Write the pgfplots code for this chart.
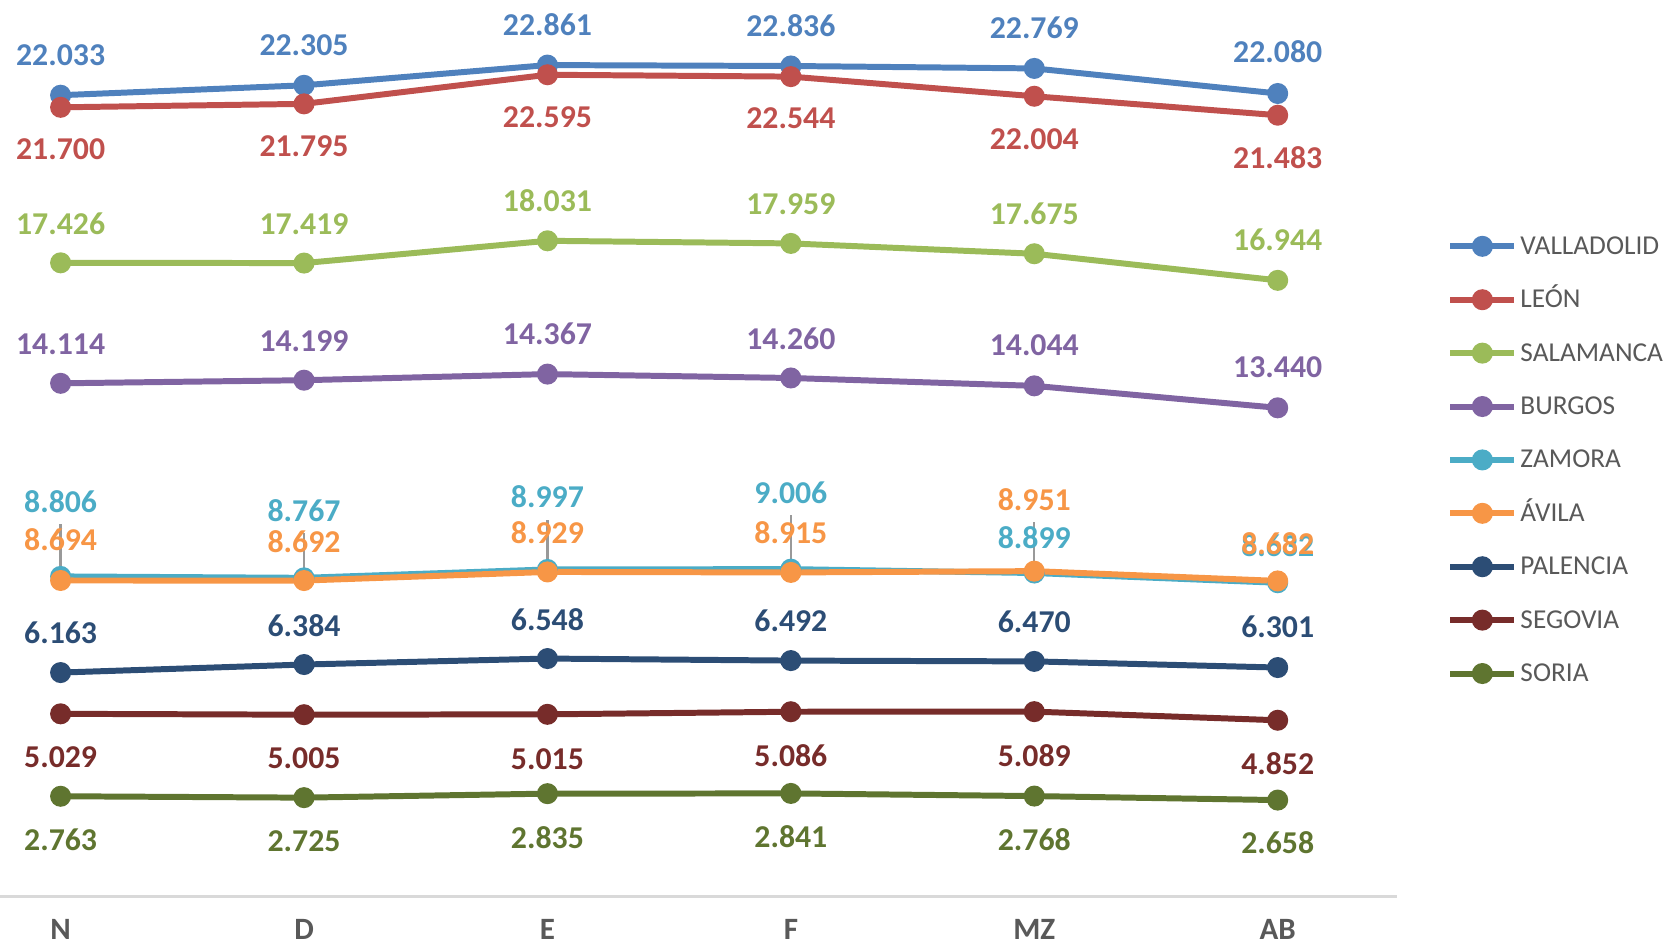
\documentclass[border=0pt]{standalone}
\usepackage{pgfplots}
\pgfplotsset{compat=1.18}
\usepackage{fontspec}
\setmainfont{Carlito}

\definecolor{cval}{HTML}{4F81BD}
\definecolor{cleo}{HTML}{C0504D}
\definecolor{csal}{HTML}{9BBB59}
\definecolor{cbur}{HTML}{8064A2}
\definecolor{czam}{HTML}{4BACC6}
\definecolor{cavi}{HTML}{F79646}
\definecolor{cpal}{HTML}{2C4D75}
\definecolor{cseg}{HTML}{772C2A}
\definecolor{csor}{HTML}{5F7530}
\definecolor{txtgray}{RGB}{89,89,89}

\pgfplotsset{
  serie/.style={color=#1, line width=1.6pt, mark=*, mark size=2pt,
    mark options={solid, fill=#1},
    nodes near coords, point meta=explicit symbolic,
    visualization depends on={\thisrow{off}\as\off},
    every node near coord/.append style={anchor=center, yshift=\off*0.1mm,
      font=\fontsize{8.5}{10}\selectfont\bfseries, text=#1}},
}

\begin{document}
\begin{tikzpicture}
\begin{axis}[
  scale only axis,
  width=131.3mm, height=84.3mm,
  xmin=-0.249, xmax=5.489,
  ymin=0, ymax=24650,
  clip=false,
  hide y axis,
  axis x line*=bottom,
  x axis line style={draw=black!15, line width=0.9pt},
  major tick length=0pt,
  xtick={0,1,2,3,4,5},
  xticklabels={N,D,E,F,MZ,AB},
  xticklabel style={anchor=center, yshift=-3.1mm, text=txtgray,
    font=\fontsize{8.3}{9}\selectfont\bfseries},
  legend style={at={(axis description cs:1.0358,0.741)}, anchor=north west,
    draw=none, fill=none, inner sep=0pt, row sep=2.52mm,
    font=\fontsize{7.3}{9}\selectfont, text=txtgray,
    nodes={inner sep=0pt, text height=2mm, text depth=0.5mm},
    /tikz/every odd column/.append style={column sep=0.3mm}},
  legend cell align=left,
]
\addplot[serie=cval] table[x=x, y=y, meta=lab] {
x y lab off
0 22033 22.033 38
1 22305 22.305 38
2 22861 22.861 38
3 22836 22.836 38
4 22769 22.769 38
5 22080 22.080 39
};
\addlegendentry{VALLADOLID}
\addplot[serie=cleo] table[x=x, y=y, meta=lab] {
x y lab off
0 21700 21.700 -39
1 21795 21.795 -40
2 22595 22.595 -40
3 22544 22.544 -39
4 22004 22.004 -40
5 21483 21.483 -40
};
\addlegendentry{LEÓN}
\addplot[serie=csal] table[x=x, y=y, meta=lab] {
x y lab off
0 17426 17.426 37
1 17419 17.419 37
2 18031 18.031 38
3 17959 17.959 37
4 17675 17.675 38
5 16944 16.944 38
};
\addlegendentry{SALAMANCA}
\addplot[serie=cbur] table[x=x, y=y, meta=lab] {
x y lab off
0 14114 14.114 37
1 14199 14.199 37
2 14367 14.367 38
3 14260 14.260 37
4 14044 14.044 38
5 13440 13.440 38
};
\addlegendentry{BURGOS}
\addplot[serie=czam] table[x=x, y=y, meta=lab] {
x y lab off
0 8806 8.806 70
1 8767 8.767 63
2 8997 8.997 68
3 9006 9.006 72
4 8899 8.899 33
5 8632 8.632 35
};
\addlegendentry{ZAMORA}
\addplot[serie=cavi] table[x=x, y=y, meta=lab] {
x y lab off
0 8694 8.694 38
1 8692 8.692 37
2 8929 8.929 37
3 8915 8.915 37
4 8951 8.951 67
5 8682 8.682 35
};
\addlegendentry{ÁVILA}
\addplot[serie=cpal] table[x=x, y=y, meta=lab] {
x y lab off
0 6163 6.163 37
1 6384 6.384 37
2 6548 6.548 37
3 6492 6.492 37
4 6470 6.470 37
5 6301 6.301 38
};
\addlegendentry{PALENCIA}
\addplot[serie=cseg] table[x=x, y=y, meta=lab] {
x y lab off
0 5029 5.029 -41
1 5005 5.005 -41
2 5015 5.015 -42
3 5086 5.086 -41
4 5089 5.089 -41
5 4852 4.852 -41
};
\addlegendentry{SEGOVIA}
\addplot[serie=csor] table[x=x, y=y, meta=lab] {
x y lab off
0 2763 2.763 -41
1 2725 2.725 -41
2 2835 2.835 -41
3 2841 2.841 -41
4 2768 2.768 -41
5 2658 2.658 -40
};
\addlegendentry{SORIA}
% leader lines of the displaced labels
\addplot[forget plot, gray!80, line width=0.6pt] coordinates {(0,8806) (0,10236)};
\addplot[forget plot, gray!80, line width=0.6pt] coordinates {(1,8767) (1,9997)};
\addplot[forget plot, gray!80, line width=0.6pt] coordinates {(2,8997) (2,10367)};
\addplot[forget plot, gray!80, line width=0.6pt] coordinates {(3,9006) (3,10496)};
\addplot[forget plot, gray!80, line width=0.6pt] coordinates {(4,8951) (4,10296)};
\end{axis}
\pgfresetboundingbox
\path[use as bounding box] (0,-4.5mm) rectangle (156.8mm,84.3mm);
\end{tikzpicture}
\end{document}
